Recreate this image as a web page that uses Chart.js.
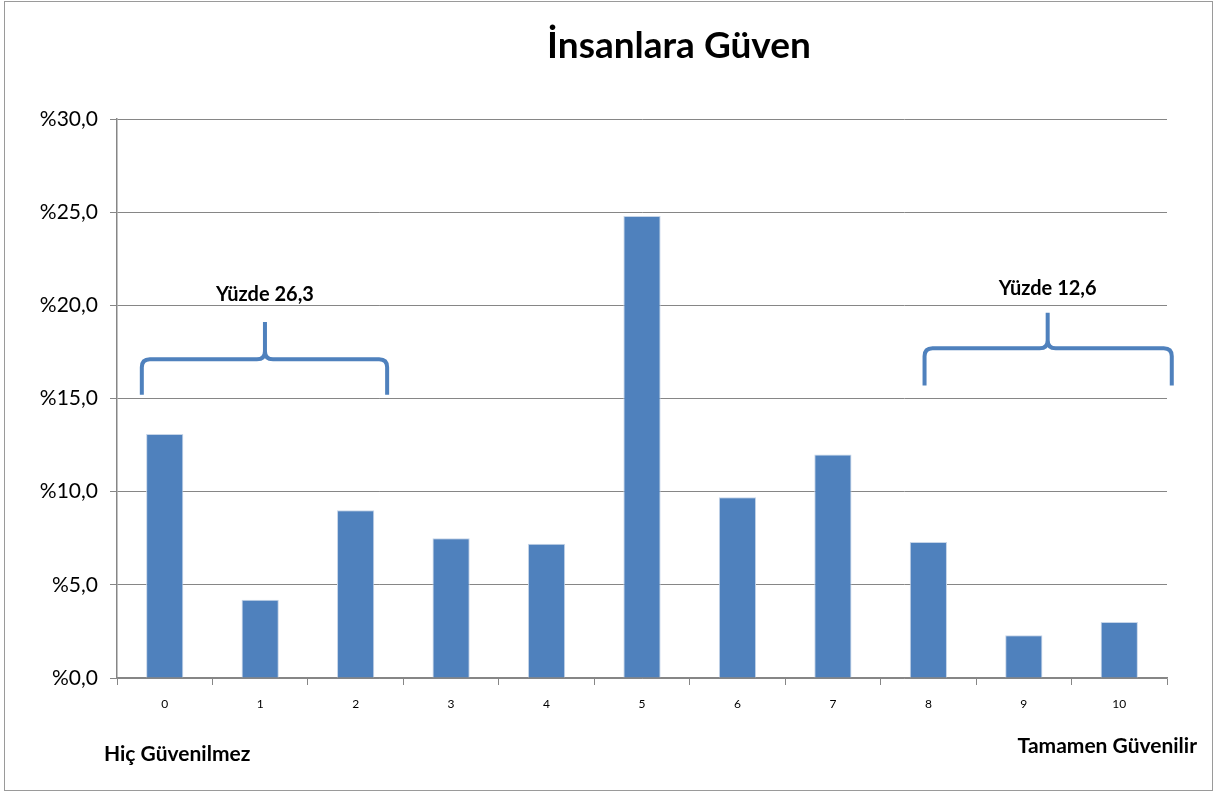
<!DOCTYPE html>
<html>
<head>
<meta charset="utf-8">
<script src="https://cdn.jsdelivr.net/npm/chart.js@4/dist/chart.umd.min.js"></script>
<style>
  html, body { margin: 0; padding: 0; background: #fff; }
  #wrap { width: 1222px; height: 794px; }
</style>
</head>
<body>
<div id="wrap"><canvas id="trustChart" width="1222" height="794"></canvas></div>
<script>
// Güven skalası (0 = hiç güvenilmez, 10 = tamamen güvenilir)
const categories = ["0", "1", "2", "3", "4", "5", "6", "7", "8", "9", "10"];
const shareValues = [13.1, 4.2, 9.0, 7.5, 7.2, 24.8, 9.7, 12.0, 7.3, 2.3, 3.0];
const yTicks = [0, 5, 10, 15, 20, 25, 30];
const groupLabels = ["Yüzde 26,3", "Yüzde 12,6"];
const endLabels = ["Hiç Güvenilmez", "Tamamen Güvenilir"];

const FONT = "Lato, 'Open Sans', sans-serif";
const BAR_BLUE = "#4F81BD";
const GRID_GREY = "#868686";

// Braces over bar groups, positioned in data units (category index / percent)
const braces = [
  { x0: -0.24, x1: 2.33, xm: 1.05, yBase: 15.2, yMid: 17.1, yTip: 19.1, label: groupLabels[0], yLabel: 20.6 },
  { x0: 7.96, x1: 10.55, xm: 9.25, yBase: 15.7, yMid: 17.7, yTip: 19.6, label: groupLabels[1], yLabel: 20.9 },
];

const decorPlugin = {
  id: "decor",
  afterDraw: function (chart) {
    const ctx = chart.ctx;
    const xs = chart.scales.x;
    const ys = chart.scales.y;
    const step = xs.getPixelForValue(1) - xs.getPixelForValue(0);
    const px = function (v) { return xs.getPixelForValue(0) + v * step; };

    ctx.save();
    // outer frame
    ctx.strokeStyle = "#9a9a9a";
    ctx.lineWidth = 1;
    ctx.strokeRect(4.5, 1.5, 1208, 789);

    // title
    ctx.fillStyle = "#000";
    ctx.font = "bold 37px " + FONT;
    ctx.textAlign = "center";
    ctx.textBaseline = "middle";
    ctx.fillText("İnsanlara Güven", 679, 46);

    // braces
    braces.forEach(function (b) {
      const x0 = px(b.x0), x1 = px(b.x1), xm = px(b.xm);
      const yB = ys.getPixelForValue(b.yBase);
      const yM = ys.getPixelForValue(b.yMid);
      const yT = ys.getPixelForValue(b.yTip);
      const r = 8;
      ctx.strokeStyle = BAR_BLUE;
      ctx.lineWidth = 4;
      ctx.lineCap = "butt";
      ctx.beginPath();
      ctx.moveTo(x0, yB);
      ctx.lineTo(x0, yM + r);
      ctx.quadraticCurveTo(x0, yM, x0 + r, yM);
      ctx.lineTo(xm - r, yM);
      ctx.quadraticCurveTo(xm, yM, xm, yM - r);
      ctx.lineTo(xm, yT);
      ctx.moveTo(xm, yM - r);
      ctx.quadraticCurveTo(xm, yM, xm + r, yM);
      ctx.lineTo(x1 - r, yM);
      ctx.quadraticCurveTo(x1, yM, x1, yM + r);
      ctx.lineTo(x1, yB);
      ctx.stroke();

      ctx.fillStyle = "#000";
      ctx.font = "bold 20px " + FONT;
      ctx.fillText(b.label, xm, ys.getPixelForValue(b.yLabel));
    });

    // scale end labels
    ctx.font = "bold 21px " + FONT;
    ctx.textAlign = "left";
    ctx.fillText(endLabels[0], 104, 754);
    ctx.textAlign = "right";
    ctx.fillText(endLabels[1], 1197, 746);
    ctx.restore();
  },
};

const chart = new Chart(document.getElementById("trustChart"), {
  type: "bar",
  data: {
    labels: categories,
    datasets: [
      {
        data: shareValues,
        backgroundColor: BAR_BLUE,
        borderColor: "#c6d5e8",
        borderWidth: { top: 1, left: 1, right: 1, bottom: 0 },
        categoryPercentage: 1,
        barPercentage: 0.39,
      },
    ],
  },
  options: {
    responsive: false,
    animation: false,
    layout: { padding: { left: 0, top: 119, right: 55, bottom: 0 } },
    plugins: {
      legend: { display: false },
      title: { display: false },
      tooltip: { enabled: false },
    },
    scales: {
      x: {
        grid: {
          display: true,
          offset: true,
          drawOnChartArea: false,
          drawTicks: true,
          tickLength: 7,
          color: GRID_GREY,
        },
        border: { display: true, color: GRID_GREY, width: 1.5 },
        ticks: {
          color: "#000",
          font: { family: FONT, size: 12 },
          padding: 12,
          maxRotation: 0,
        },
        afterFit: function (scale) { scale.height = 794 - 678; },
      },
      y: {
        min: 0,
        max: 30,
        afterBuildTicks: function (scale) {
          scale.ticks = yTicks.map(function (v) { return { value: v }; });
        },
        grid: {
          color: GRID_GREY,
          lineWidth: 1,
          drawTicks: true,
          tickLength: 7,
        },
        border: { display: true, color: GRID_GREY, width: 1.5 },
        ticks: {
          color: "#000",
          font: { family: FONT, size: 21 },
          padding: 12,
          callback: function (v) { return "%" + v.toFixed(1).replace(".", ","); },
        },
        afterFit: function (scale) { scale.width = 117; },
      },
    },
  },
  plugins: [decorPlugin],
});
</script>
</body>
</html>
